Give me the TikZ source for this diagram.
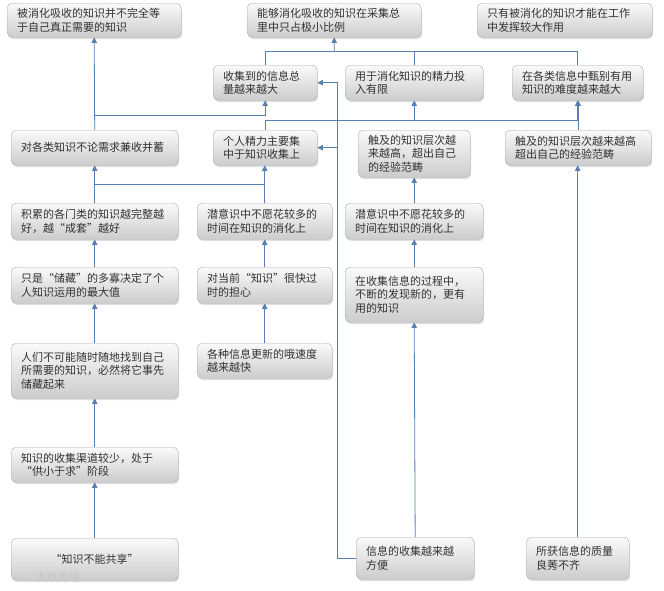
\documentclass[tikz,border=0pt]{standalone}
\usepackage{fontspec}
\setmainfont{Noto Sans CJK SC}
\usetikzlibrary{arrows.meta,shadows,calc}
\definecolor{lineblue}{RGB}{86,128,178}
\definecolor{boxtext}{RGB}{50,50,50}
\newcommand\bx[7][left]{%
  \pgfmathsetmacro\bxw{#5-#3}\pgfmathsetmacro\bxh{#6-#4}\pgfmathsetmacro\bxt{#5-#3-20}%
  \node[box, align=#1, minimum width=\bxw pt, minimum height=\bxh pt, text width=\bxt pt, anchor=north west] (#2) at (#3,#4) {#7};}
\begin{document}
\begin{tikzpicture}[x=1pt,y=-1pt,
  box/.style={draw=gray!65, rounded corners=5pt, top color=gray!4, bottom color=gray!40,
    drop shadow={opacity=0.25, shadow xshift=1pt, shadow yshift=-2pt},
    inner xsep=10pt, inner ysep=2pt, text=boxtext, font=\fontsize{11pt}{13.5pt}\selectfont},
  conn/.style={draw=lineblue, line width=0.8pt, -{Triangle[width=5.5pt,length=5.5pt]}},
  plain/.style={draw=lineblue, line width=0.8pt}]
\useasboundingbox (0,0) rectangle (664,590);
% row 1
\bx{A1}{7}{3}{181}{37}{被消化吸收的知识并不完全等\\于自己真正需要的知识}
\bx{A2}{247}{3}{421}{37}{能够消化吸收的知识在采集总\\里中只占极小比例}
\bx{A3}{477}{3}{652}{37}{只有被消化的知识才能在工作\\中发挥较大作用}
% row 2
\bx{B1}{213}{65}{317}{100}{收集到的信息总\\量越来越大}
\bx{B2}{345}{65}{483}{100}{用于消化知识的精力投\\入有限}
\bx{B3}{512}{65}{643}{100}{在各类信息中甄别有用\\知识的难度越来越大}
% row 3
\bx{C1}{11}{130}{178}{165}{对各类知识不论需求兼收并蓄}
\bx{C2}{213}{130}{317}{165}{个人精力主要集\\中于知识收集上}
\bx{C3}{358}{130}{470}{177}{触及的知识层次越\\来越高，超出自己\\的经验范畴}
\bx{C4}{505}{130}{651}{165}{触及的知识层次越来越高\\超出自己的经验范畴}
% row 4
\bx{D1}{11}{203}{178}{239}{积累的各门类的知识越完整越\\好，越“成套”越好}
\bx{D2}{197}{203}{332}{239}{潜意识中不愿花较多的\\时间在知识的消化上}
\bx{D3}{345}{203}{483}{239}{潜意识中不愿花较多的\\时间在知识的消化上}
% row 5
\bx{E1}{11}{267}{178}{303}{只是“储藏”的多寡决定了个\\人知识运用的最大值}
\bx{E2}{197}{267}{332}{303}{对当前“知识”很快过\\时的担心}
\bx{E3}{345}{267}{483}{322}{在收集信息的过程中，\\不断的发现新的，更有\\用的知识}
% row 6
\bx{F1}{11}{343}{178}{398}{人们不可能随时随地找到自己\\所需要的知识，必然将它事先\\储藏起来}
\bx{F2}{197}{343}{332}{378}{各种信息更新的哦速度\\越来越快}
% row 7
\bx{G1}{11}{447}{178}{482}{知识的收集渠道较少，处于\\“供小于求”阶段}
% row 8
\bx[center]{H1}{11}{538}{178}{580}{“知识不能共享”}
\bx{H2}{356}{537}{474}{579}{信息的收集越来越\\方便}
\bx{H3}{526}{537}{629}{579}{所获信息的质量\\良莠不齐}
% junction coordinates
\coordinate (jD) at ($(C1.south)!0.5!(D1.north)$);
\coordinate (jC) at ($(C1.north)!0.5!(C1.north |- B1.south)$);
\coordinate (jC2) at ($(C2.north)+(0,-10)$);
\coordinate (jB) at ($(A2.south)!0.5!(A2.south |- B1.north)$);
\coordinate (jH) at ($(H2.west)+(-19,0)$);
% left column
\draw[conn] (H1.north) -- (G1.south);
\draw[conn] (G1.north) -- (F1.south);
\draw[conn] (F1.north) -- (E1.south);
\draw[conn] (E1.north) -- (D1.south);
\draw[conn] (D1.north) -- (C1.south);
\draw[plain] (D2.north) |- (jD);
\draw[conn] (C1.north) -- (A1.south);
\draw[conn] (jC) -| (B1.south);
% second column
\draw[conn] (F2.north) -- (E2.south);
\draw[conn] (E2.north) -- (D2.south);
\draw[conn] (D2.north) -- (D2.north |- C2.south);
% C2 to B2, B3
\draw[plain] (C2.north) -- (jC2);
\draw[conn] (jC2) -| (B2.south);
\draw[conn] (jC2) -| (B3.south);
% row 2 to A2
\draw[plain] (B1.north) |- (jB);
\draw[plain] (B3.north) |- (jB);
\draw[plain] (B2.north) -- (B2.north |- jB);
\draw[conn] (jB) -- (A2.south);
% third column
\draw[conn] (H2.north) -- (E3.south);
\draw[conn] (E3.north) -- (D3.south);
\draw[conn] (D3.north) -- (C3.south);
\draw[plain] (H2.west) -- (jH);
\draw[conn] (jH) |- (B1.east);
\draw[conn] (jH) |- (C2.east);
% fourth column
\draw[conn] (H3.north) -- (H3.north |- C4.south);
\draw[conn] (C4.north) -- (C4.north |- B3.south);
% watermark
\node[text=gray!45, font=\fontsize{11pt}{12pt}\selectfont, anchor=west] (wm) at (32,577) {大数跨境};
\end{tikzpicture}
\end{document}
